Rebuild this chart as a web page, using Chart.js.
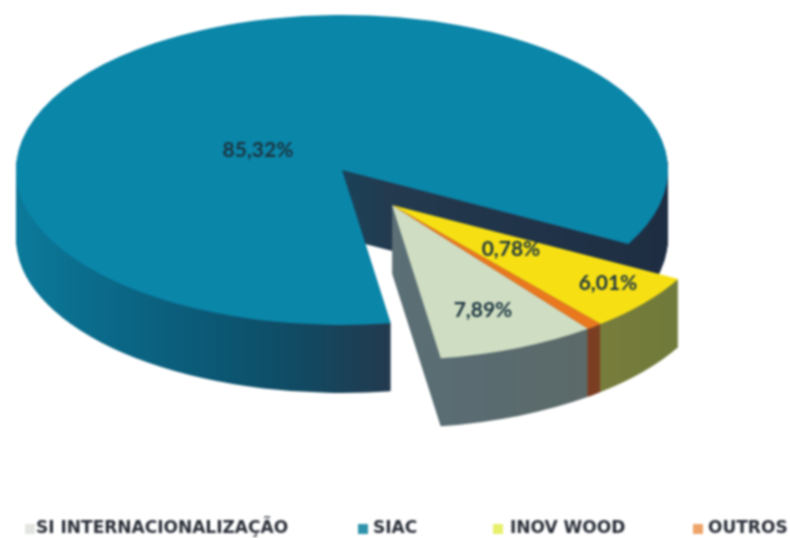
<!DOCTYPE html>
<html>
<head>
<meta charset="utf-8">
<style>
html,body{margin:0;padding:0;background:#fff;overflow:hidden}
#wrap{width:790px;height:538px;position:relative}
canvas{filter:blur(0.9px)}
</style>
<script src="https://cdn.jsdelivr.net/npm/chart.js@4"></script>
</head>
<body>
<div id="wrap"><canvas id="c" width="790" height="538"></canvas></div>
<script>
const categories = ['SI INTERNACIONALIZAÇÃO', 'SIAC', 'INOV WOOD', 'OUTROS'];
const seriesValues = [7.89, 85.32, 6.01, 0.78];
const valueLabels = ['7,89%', '85,32%', '6,01%', '0,78%'];
const topColors = ['#cfddc2', '#0a86a9', '#f6e013', '#e9781f'];
const legendColors = ['#e3e6e0', '#2f93ab', '#e6f06a', '#eea468'];

// 3D projection
const CX = 342, CY = 170, RX = 326, RY = 155, DEPTH = 68;
const EXPLODE = {x: 50, y: 35};
const exploded = [true, false, true, true];
const wallStops = [
  [[380, '#5b7076'], [470, '#5a6c72'], [590, '#5c6a68']],
  [[15, '#0c7a9b'], [110, '#0b6888'], [220, '#0b5773'], [310, '#124860'], [388, '#233a4f'], [667, '#1e2d42']],
  [[600, '#787d3c'], [680, '#6f7a3a']],
  [[585, '#7b3e22'], [600, '#7b3e22']]
];
const labelPos = [[483, 310], [258, 150], [608, 283], [511, 249]];
const legendPos = [[25, 36], [358, 373], [493, 510], [693, 708]];

const pie3d = {
  id: 'pie3d',
  beforeDatasetsDraw(chart) {
    const ctx = chart.ctx;
    const arcs = chart.getDatasetMeta(0).data;
    const r = arcs[0].outerRadius, ox = arcs[0].x, oy = arcs[0].y;
    const sx = RX / r, sy = RY / r;
    const paint = (el, i, dx, dy, fill) => {
      const o = el.options;
      const proxied = new Proxy(o, {get: (t, k) => k === 'backgroundColor' ? fill : t[k]});
      ctx.save();
      ctx.setTransform(sx, 0, 0, sy, CX + dx - ox * sx, CY + dy - oy * sy);
      el.options = proxied;
      el.draw(ctx);
      el.options = o;
      ctx.restore();
    };
    const wallFill = (i, dx) => {
      const stops = wallStops[i];
      const x0 = (stops[0][0] - CX - dx) / sx + ox;
      const x1 = (stops[stops.length - 1][0] - CX - dx) / sx + ox;
      const g = ctx.createLinearGradient(x0, 0, x1, 0);
      const span = stops[stops.length - 1][0] - stops[0][0];
      stops.forEach(s => g.addColorStop((s[0] - stops[0][0]) / span, s[1]));
      return g;
    };
    const group = (flag, dx, dy) => {
      const idx = arcs.map((_, i) => i).filter(i => exploded[i] === flag);
      const fills = idx.map(i => wallFill(i, dx));
      for (let d = DEPTH; d > 0; d--) {
        idx.forEach((i, n) => paint(arcs[i], i, dx, dy + d, fills[n]));
      }
      idx.forEach(i => paint(arcs[i], i, dx, dy, topColors[i]));
    };
    group(false, 0, 0);
    group(true, EXPLODE.x, EXPLODE.y);
    return false;
  },
  afterDraw(chart) {
    const ctx = chart.ctx;
    ctx.save();
    ctx.textAlign = 'center';
    ctx.textBaseline = 'middle';
    ctx.font = 'bold 21px Lato';
    ctx.fillStyle = '#1b3440';
    valueLabels.forEach((t, i) => ctx.fillText(t, labelPos[i][0], labelPos[i][1]));
    ctx.textAlign = 'left';
    ctx.font = 'bold 17px "DejaVu Sans"';
    categories.forEach((t, i) => {
      ctx.fillStyle = legendColors[i];
      ctx.fillRect(legendPos[i][0], 524, 10, 10);
      ctx.fillStyle = '#2a2f38';
      ctx.fillText(t, legendPos[i][1], 529);
    });
    ctx.restore();
  }
};

new Chart(document.getElementById('c'), {
  type: 'pie',
  data: {
    labels: categories,
    datasets: [{data: seriesValues, backgroundColor: topColors, borderWidth: 0}]
  },
  options: {
    responsive: false,
    animation: false,
    rotation: 143,
    layout: {padding: 0},
    plugins: {legend: {display: false}, tooltip: {enabled: false}}
  },
  plugins: [pie3d]
});
</script>
</body>
</html>
